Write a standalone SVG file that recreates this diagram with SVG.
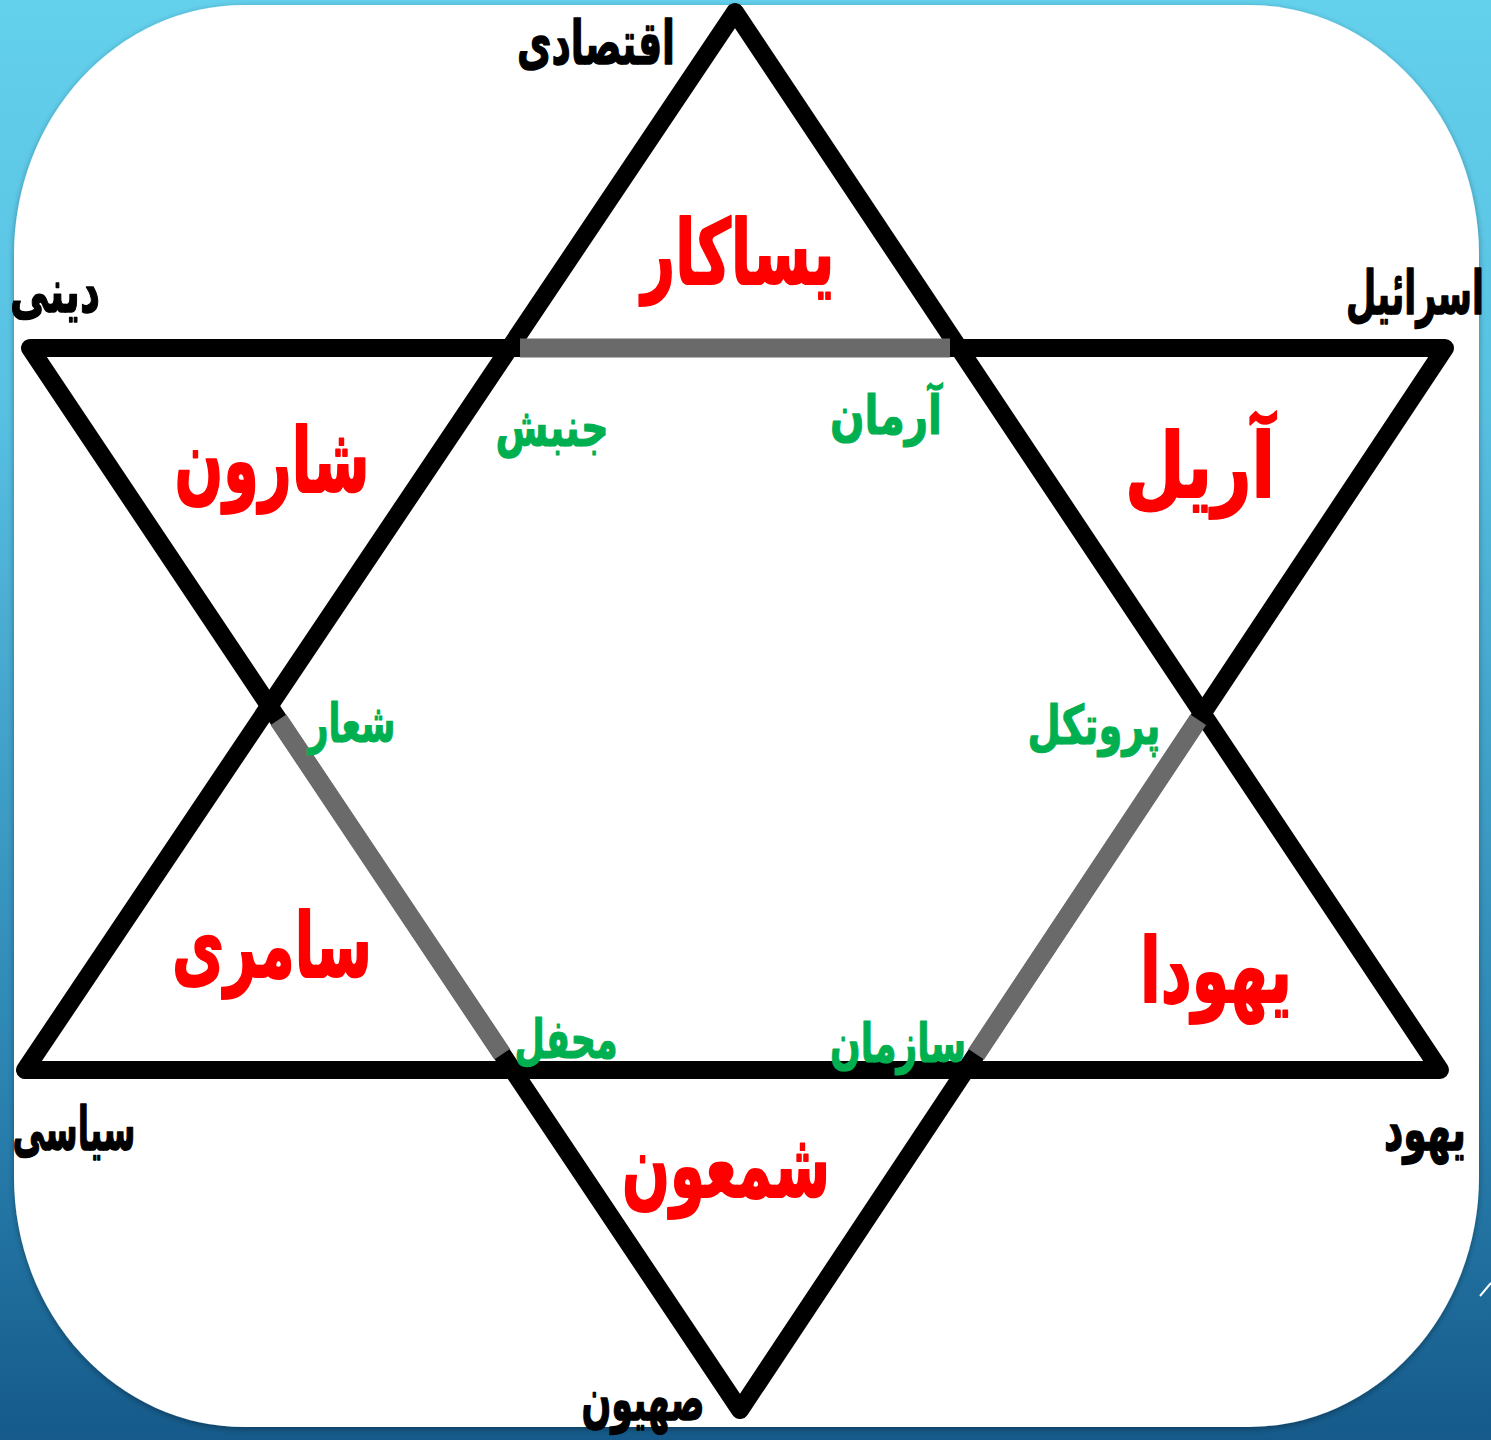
<svg xmlns="http://www.w3.org/2000/svg" width="1491" height="1440" viewBox="0 0 1491 1440">
<defs>
<linearGradient id="bg" x1="0" y1="0" x2="0" y2="1">
<stop offset="0" stop-color="#63d0ec"/>
<stop offset="0.28" stop-color="#58c1e2"/>
<stop offset="0.76" stop-color="#2a82b0"/>
<stop offset="1" stop-color="#155a8a"/>
</linearGradient>
<filter id="sh" x="-5%" y="-5%" width="110%" height="110%">
<feGaussianBlur in="SourceAlpha" stdDeviation="3"/>
<feOffset dx="0" dy="2"/>
<feComponentTransfer><feFuncA type="linear" slope="0.35"/></feComponentTransfer>
<feMerge><feMergeNode/><feMergeNode in="SourceGraphic"/></feMerge>
</filter>
<style>
.blk{stroke:#000;stroke-width:18;stroke-linejoin:round;fill:none}
.gry{stroke:#6a6a6a;stroke-width:19;fill:none}
text{font-family:"DejaVu Sans","Noto Sans",sans-serif;font-weight:bold;text-anchor:middle;direction:rtl;stroke-linejoin:round}
.k{fill:#000;stroke:#000;stroke-width:1.5;font-size:60px}
.r{fill:#ff0000;stroke:#ff0000;stroke-width:2;font-size:90px}
.g{fill:#00b050;stroke:#00b050;stroke-width:1.2;font-size:54px}
</style>
</defs>
<rect x="0" y="0" width="1491" height="1440" fill="url(#bg)"/>
<path d="M1480 1296 L1491 1283" stroke="#ffffff" stroke-width="2" fill="none"/>
<path filter="url(#sh)" fill="#ffffff" d="M244 5 H1249 A230 250 0 0 1 1479 255 V1177 A230 250 0 0 1 1249 1427 H244 A230 250 0 0 1 14 1177 V255 A230 250 0 0 1 244 5 Z"/>
<g id="connectors">
<path class="blk" d="M735 12 L25 1070 L1440 1070 Z"/>
<path class="blk" d="M30 348 L1445 348 L740 1410 Z"/>
<path class="gry" d="M520 348 L950 348"/>
<path class="gry" d="M278.5 719.7 L502.2 1054.2"/>
<path class="gry" d="M1198.2 719.7 L976.2 1054.2"/>
</g>
<g id="n-eqtesadi"><text class="k" x="596" y="64" textLength="158" lengthAdjust="spacingAndGlyphs">اقتصادی</text></g>
<g id="n-dini"><text class="k" x="55" y="312" textLength="90" lengthAdjust="spacingAndGlyphs">دینی</text></g>
<g id="n-israel"><text class="k" x="1415" y="314" textLength="138" lengthAdjust="spacingAndGlyphs">اسرائیل</text></g>
<g id="n-siasi"><text class="k" x="74" y="1150" textLength="123" lengthAdjust="spacingAndGlyphs">سیاسی</text></g>
<g id="n-yahud"><text class="k" x="1425" y="1150" textLength="82" lengthAdjust="spacingAndGlyphs">یهود</text></g>
<g id="n-sahyun"><text class="k" x="643" y="1420" textLength="123" lengthAdjust="spacingAndGlyphs">صهیون</text></g>
<g id="n-yasakar"><text class="r" x="738" y="284" textLength="193" lengthAdjust="spacingAndGlyphs">یساکار</text></g>
<g id="n-sharon"><text class="r" x="272" y="492" textLength="195" lengthAdjust="spacingAndGlyphs">شارون</text></g>
<g id="n-ariel"><text class="r" x="1200" y="497" textLength="150" lengthAdjust="spacingAndGlyphs">آریل</text></g>
<g id="n-samari"><text class="r" x="272" y="977" textLength="200" lengthAdjust="spacingAndGlyphs">سامری</text></g>
<g id="n-yahuda"><text class="r" x="1216" y="1002" textLength="152" lengthAdjust="spacingAndGlyphs">یهودا</text></g>
<g id="n-shimon"><text class="r" x="726" y="1197" textLength="208" lengthAdjust="spacingAndGlyphs">شمعون</text></g>
<g id="n-jonbesh"><text class="g" x="552" y="446" textLength="113" lengthAdjust="spacingAndGlyphs">جنبش</text></g>
<g id="n-arman"><text class="g" x="886" y="434" textLength="112" lengthAdjust="spacingAndGlyphs">آرمان</text></g>
<g id="n-shoar"><text class="g" x="352" y="742" textLength="87" lengthAdjust="spacingAndGlyphs">شعار</text></g>
<g id="n-protocol"><text class="g" x="1094" y="744" textLength="133" lengthAdjust="spacingAndGlyphs">پروتکل</text></g>
<g id="n-mahfel"><text class="g" x="566" y="1058" textLength="103" lengthAdjust="spacingAndGlyphs">محفل</text></g>
<g id="n-sazman"><text class="g" x="898" y="1062" textLength="136" lengthAdjust="spacingAndGlyphs">سازمان</text></g>
</svg>
